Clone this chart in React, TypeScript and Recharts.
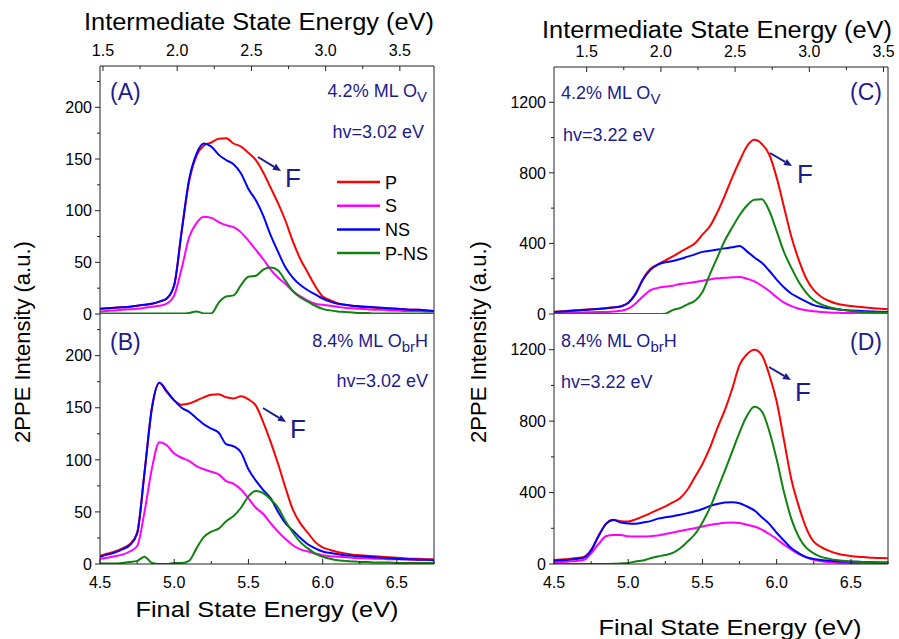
import React from "react";
import { LineChart, Line, XAxis, YAxis, ReferenceLine, Legend } from "recharts";

// final state energy (eV), shared by every panel
const energy = [
  4.5, 4.55, 4.6, 4.65, 4.7, 4.75, 4.8, 4.85, 4.9, 4.95,
  5.0, 5.05, 5.1, 5.15, 5.2, 5.25, 5.3, 5.35, 5.4, 5.45,
  5.5, 5.55, 5.6, 5.65, 5.7, 5.75, 5.8, 5.85, 5.9, 5.95,
  6.0, 6.05, 6.1, 6.15, 6.2, 6.25, 6.3, 6.35, 6.4, 6.45,
  6.5, 6.55, 6.6, 6.65, 6.7, 6.75,
];

// (A) 4.2% ML Ov, hv = 3.02 eV
const pA = [5, 5.5, 6, 6.5, 7, 8, 9, 10, 12, 15, 28, 80, 128, 153, 163, 166, 169.5, 170, 165, 162, 156, 149, 137, 122, 107, 90, 70, 53, 40, 27, 17, 13.5, 10.5, 9, 8, 7, 6.5, 6, 5.5, 5, 5, 4.5, 4, 4, 3.5, 3];
const sA = [2.5, 3, 3.5, 4, 4.5, 5, 6, 7, 8, 10, 18, 44, 74, 88, 94, 93, 89, 86, 84, 79, 71, 62, 53, 43, 35, 29, 22, 17, 13, 10, 9, 8, 7, 6, 5.5, 5, 4.5, 4, 4, 3.5, 3.5, 3, 3, 3, 2.5, 2.5];
const nsA = [5, 5.5, 6, 6.5, 7, 8, 9, 10, 12, 15, 28, 80, 130, 155, 165, 162, 154, 149, 145, 136, 121, 110, 95, 76, 60, 45, 35, 28, 23, 19, 15, 12, 10, 9, 8, 7.5, 7, 6.5, 6, 5.5, 5, 4.5, 4, 4, 3.5, 3];
const pnsA = [0.5, 0.5, 0.5, 0.5, 0.5, 0.5, 0.5, 0.5, 0.5, 0.5, 0.5, 0.5, 1, 2.5, 0.5, 0.5, 11, 17, 18, 28, 36, 37, 43, 45, 42, 32, 22, 16, 12, 8, 5, 3.5, 2.5, 2, 1.5, 1, 1, 0.5, 0.5, 0.5, 0.5, 0.5, 0.5, 0.5, 0.5, 0.5];

// (B) 8.4% ML ObrH, hv = 3.02 eV
const pB = [8, 10, 12, 15, 19, 30, 88, 150, 174, 165, 157, 153, 154, 157, 160, 162.5, 163, 160, 159, 161, 158, 152, 136, 117, 96, 73, 52, 39, 30, 21, 16, 13.5, 11.5, 10, 9, 8.5, 8, 7.5, 7, 6.5, 6, 5.5, 5, 5, 4.5, 4.5];
const sB = [5, 6, 7.5, 9, 12, 17, 50, 92, 117, 114, 106, 102, 99, 94, 91, 88.5, 86, 79.5, 77, 71.5, 63, 54, 48, 39, 31, 24, 18, 14, 12, 10, 8.5, 7.5, 7, 6.5, 6, 5.5, 5.5, 5, 5, 4.5, 4.5, 4.5, 4, 4, 4, 4];
const nsB = [7, 9, 11, 14, 18, 29, 88, 150, 174, 166, 157, 150, 146, 140, 134, 130, 126, 115, 113, 107, 91, 80, 71, 63, 50, 39, 32, 25, 19, 15, 12, 10.5, 9.5, 8.5, 8, 7.5, 7, 6.5, 6, 5.5, 5, 4.5, 4.5, 4, 4, 3.5];
const pnsB = [0.5, 0.5, 0.5, 1, 2, 3, 7, 1, 0, 0, 1, 1, 3, 15, 26, 31, 34, 41, 46, 54, 65, 70, 68, 62, 54, 41, 30, 21, 15, 10, 7, 5, 3.5, 3, 2.5, 2, 2, 1.5, 1.5, 1.5, 1, 1, 1, 1, 1, 1];

// (C) 4.2% ML Ov, hv = 3.22 eV
const pC = [13, 15, 18, 21, 24, 27, 30, 33, 38, 44, 64, 116, 200, 257, 281, 304, 326, 351, 375, 401, 450, 497, 576, 670, 773, 867, 951, 987, 964, 904, 773, 604, 435, 304, 200, 135, 98, 75, 60, 51, 45, 41, 37, 33, 30, 27];
const sC = [5, 6, 7, 8, 9, 10, 11, 12, 14, 18, 30, 60, 100, 135, 148, 155, 160, 170, 175, 181, 189, 196, 202, 205, 208, 210, 200, 185, 160, 130, 95, 65, 45, 30, 21, 15, 11, 8, 7, 6, 5, 5, 4.5, 4, 4, 4];
const nsC = [12, 14, 17, 20, 23, 26, 29, 32, 37, 43, 62, 114, 195, 250, 280, 293, 300, 312, 325, 338, 352, 358, 365, 372, 378, 386, 355, 320, 290, 245, 195, 150, 115, 92, 70, 50, 40, 32, 27, 23, 20, 18, 16, 14, 13, 12];
const pnsC = [2, 2, 2, 1.5, 1.5, 1, 1, 1, 0.5, 0.5, 0, 0, 0, 0, 0, 2, 22, 34, 55, 75, 125, 225, 320, 415, 490, 560, 615, 648, 650, 585, 470, 350, 260, 180, 120, 78, 55, 40, 30, 22, 17, 13, 11, 9, 8, 7];

// (D) 8.4% ML ObrH, hv = 3.22 eV
const pD = [22, 25, 28, 33, 40, 80, 158, 225, 248, 240, 238, 250, 267, 285, 304, 323, 345, 370, 417, 488, 560, 650, 760, 860, 980, 1115, 1175, 1200, 1170, 1060, 910, 690, 470, 320, 200, 125, 95, 75, 60, 50, 45, 41, 38, 35, 33, 32];
const sD = [9, 11, 14, 17, 22, 60, 112, 155, 162, 162, 155, 154, 154, 156, 160, 168, 176, 185, 193, 200, 210, 218, 225, 231, 232, 229, 220, 210, 192, 168, 140, 108, 80, 55, 37, 23, 15, 11, 8, 7, 6, 5, 5, 4.5, 4, 4];
const nsD = [18, 21, 24, 28, 35, 75, 155, 225, 247, 232, 227, 226, 233, 240, 254, 262, 268, 276, 285, 295, 308, 325, 336, 344, 346, 340, 322, 300, 262, 225, 175, 130, 88, 60, 38, 28, 22, 19, 16, 14, 13, 12, 11, 10, 9, 9];
const pnsD = [0, 0, 0, 0, 0, 0, 0, 0.5, 1, 3, 6, 14, 20, 32, 42, 50, 62, 88, 126, 168, 233, 314, 416, 520, 628, 737, 830, 880, 855, 745, 586, 400, 250, 150, 90, 60, 40, 30, 22, 18, 15, 12, 10, 9, 8, 8];

// axis ticks
const finalTicks = [4.5, 4.75, 5.0, 5.25, 5.5, 5.75, 6.0, 6.25, 6.5, 6.75];
const intermediateTicks = [1.5, 1.75, 2.0, 2.25, 2.5, 2.75, 3.0, 3.25, 3.5];
const lowTicks = [0, 25, 50, 75, 100, 125, 150, 175, 200, 225];
const highTicks = [0, 200, 400, 600, 800, 1000, 1200];

const seriesNames = ["P", "S", "NS", "P-NS"];
const COLORS = { p: "#ff0000", s: "#ff00ff", ns: "#0000ff", pns: "#0f820f" };
const NAVY = "#1c1c8c";
const AXIS = "#222";

const buildRows = (p: number[], s: number[], ns: number[], pns: number[]) =>
  energy.map((e, i) => ({ e, p: p[i], s: s[i], ns: ns[i], pns: pns[i] }));

const isMultiple = (v: number, step: number) =>
  Math.abs(v / step - Math.round(v / step)) < 1e-6;

// x ticks point into the plot; labels only on the 0.5 eV ticks
const bottomTick = (labels: boolean) => (props: any) => {
  const { x, y, payload } = props;
  const major = isMultiple(payload.value, 0.5);
  return (
    <g>
      <line x1={x} x2={x} y1={y} y2={y - (major ? 5 : 3)} stroke={AXIS} />
      {labels && major && (
        <text x={x} y={y + 24} textAnchor="middle" fontSize={16} fill="#000">
          {payload.value.toFixed(1)}
        </text>
      )}
    </g>
  );
};

const topTick = (hv: number) => (props: any) => {
  const { x, y, payload } = props;
  const val = payload.value - hv;
  const major = isMultiple(val, 0.5);
  return (
    <g>
      <line x1={x} x2={x} y1={y} y2={y + (major ? 5 : 3)} stroke={AXIS} />
      {major && (
        <text x={x} y={y - 10} textAnchor="middle" fontSize={16} fill="#000">
          {val.toFixed(1)}
        </text>
      )}
    </g>
  );
};

const yTick = (majorStep: number) => (props: any) => {
  const { x, y, payload } = props;
  const major = isMultiple(payload.value, majorStep);
  return (
    <g>
      <line x1={x} x2={x - (major ? 5 : 3)} y1={y} y2={y} stroke={AXIS} />
      {major && (
        <text x={x - 8} y={y + 5.7} textAnchor="end" fontSize={16} fill="#000">
          {payload.value}
        </text>
      )}
    </g>
  );
};

const renderLegend = (props: any) => {
  const items = [...(props.payload || [])].sort(
    (a: any, b: any) => seriesNames.indexOf(a.value) - seriesNames.indexOf(b.value)
  );
  return (
    <svg width={100} height={100} style={{ display: "block" }}>
      {items.map((entry: any, i: number) => (
        <g key={entry.value}>
          <line x1={0} x2={43} y1={12 + i * 23.7} y2={12 + i * 23.7} stroke={entry.color} strokeWidth={2.5} />
          <text x={48} y={12 + i * 23.7 + 6.5} fontSize={18} fill="#000">
            {entry.value}
          </text>
        </g>
      ))}
    </svg>
  );
};

interface PanelProps {
  left: number;
  top: number;
  height: number;
  margin: { top: number; right: number; bottom: number; left: number };
  rows: ReturnType<typeof buildRows>;
  yMax: number;
  yTicks: number[];
  yMajor: number;
  hvTop?: number;
  topHeight?: number;
  bottomHeight: number;
  bottomLabels: boolean;
  legend?: boolean;
}

function Panel(props: PanelProps) {
  const { left, top, height, margin, rows, yMax, yTicks, yMajor, hvTop, topHeight, bottomHeight, bottomLabels, legend } = props;
  return (
    <div style={{ position: "absolute", left, top }}>
      <LineChart width={440} height={height} data={rows} margin={margin}>
        {hvTop !== undefined && (
          <XAxis
            xAxisId="top"
            orientation="top"
            type="number"
            dataKey="e"
            domain={[4.5, 6.75]}
            allowDataOverflow
            ticks={intermediateTicks.map((t) => +(t + hvTop).toFixed(3))}
            interval={0}
            height={topHeight}
            tickSize={0}
            tickMargin={0}
            tickLine={false}
            tick={topTick(hvTop)}
            axisLine={{ stroke: AXIS }}
          />
        )}
        <XAxis
          type="number"
          dataKey="e"
          domain={[4.5, 6.75]}
          allowDataOverflow
          ticks={finalTicks}
          interval={0}
          height={bottomHeight}
          tickSize={0}
          tickMargin={0}
          tickLine={false}
          tick={bottomTick(bottomLabels)}
          axisLine={{ stroke: AXIS }}
        />
        <YAxis
          type="number"
          domain={[0, yMax]}
          allowDataOverflow
          ticks={yTicks}
          interval={0}
          width={100}
          tickSize={0}
          tickMargin={0}
          tickLine={false}
          tick={yTick(yMajor)}
          axisLine={{ stroke: AXIS }}
        />
        <ReferenceLine x={6.75} stroke={AXIS} />
        {legend && (
          <Legend
            layout="vertical"
            align="center"
            verticalAlign="middle"
            wrapperStyle={{ left: 337, top: 170, right: "auto", bottom: "auto", width: 100, height: 100 }}
            content={renderLegend}
          />
        )}
        <Line type="monotone" dataKey="p" name="P" stroke={COLORS.p} strokeWidth={2} dot={false} isAnimationActive={false} />
        <Line type="monotone" dataKey="s" name="S" stroke={COLORS.s} strokeWidth={2} dot={false} isAnimationActive={false} />
        <Line type="monotone" dataKey="ns" name="NS" stroke={COLORS.ns} strokeWidth={2} dot={false} isAnimationActive={false} />
        <Line type="monotone" dataKey="pns" name="P-NS" stroke={COLORS.pns} strokeWidth={2} dot={false} isAnimationActive={false} />
      </LineChart>
    </div>
  );
}

function Arrow({ x1, y1, x2, y2 }: { x1: number; y1: number; x2: number; y2: number }) {
  const a = Math.atan2(y2 - y1, x2 - x1);
  const len = 8;
  const w = 3.5;
  const bx = x2 - len * Math.cos(a);
  const by = y2 - len * Math.sin(a);
  const px = -Math.sin(a) * w;
  const py = Math.cos(a) * w;
  return (
    <g>
      <line x1={x1} y1={y1} x2={bx} y2={by} stroke={NAVY} strokeWidth={2} />
      <polygon points={`${x2},${y2} ${bx + px},${by + py} ${bx - px},${by - py}`} fill={NAVY} />
    </g>
  );
}

export default function App() {
  const rowsA = buildRows(pA, sA, nsA, pnsA);
  const rowsB = buildRows(pB, sB, nsB, pnsB);
  const rowsC = buildRows(pC, sC, nsC, pnsC);
  const rowsD = buildRows(pD, sD, nsD, pnsD);

  return (
    <div
      style={{
        position: "absolute",
        left: 0,
        top: 0,
        width: 899,
        height: 639,
        background: "#fff",
        overflow: "hidden",
        fontFamily: '"Liberation Sans", Arial, sans-serif',
      }}
    >
      <Panel left={0} top={0} height={330} margin={{ top: 0, right: 6, bottom: 16, left: 0 }} rows={rowsA}
        yMax={240} yTicks={lowTicks} yMajor={50} hvTop={3.02} topHeight={66} bottomHeight={0} bottomLabels={false} legend />
      <Panel left={0} top={310} height={329} margin={{ top: 4, right: 6, bottom: 0, left: 0 }} rows={rowsB}
        yMax={240} yTicks={lowTicks} yMajor={50} bottomHeight={75} bottomLabels />
      <Panel left={454} top={0} height={330} margin={{ top: 0, right: 6, bottom: 16, left: 0 }} rows={rowsC}
        yMax={1400} yTicks={highTicks} yMajor={400} hvTop={3.22} topHeight={67} bottomHeight={0} bottomLabels={false} />
      <Panel left={454} top={310} height={329} margin={{ top: 4, right: 6, bottom: 0, left: 0 }} rows={rowsD}
        yMax={1400} yTicks={highTicks} yMajor={400} bottomHeight={75} bottomLabels />

      <svg width={899} height={639} style={{ position: "absolute", left: 0, top: 0, pointerEvents: "none" }}>
        {/* axis titles */}
        <text x={259} y={30} textAnchor="middle" fontSize={23} textLength={350} lengthAdjust="spacingAndGlyphs" fill="#000">Intermediate State Energy (eV)</text>
        <text x={717} y={38} textAnchor="middle" fontSize={23} textLength={350} lengthAdjust="spacingAndGlyphs" fill="#000">Intermediate State Energy (eV)</text>
        <text x={267} y={617} textAnchor="middle" fontSize={22} textLength={263} lengthAdjust="spacingAndGlyphs" fill="#000">Final State Energy (eV)</text>
        <text x={730} y={635} textAnchor="middle" fontSize={22} textLength={263} lengthAdjust="spacingAndGlyphs" fill="#000">Final State Energy (eV)</text>
        <text x={30} y={342} transform="rotate(-90 30 342)" textAnchor="middle" fontSize={22} fill="#000">2PPE Intensity (a.u.)</text>
        <text x={486} y={342} transform="rotate(-90 486 342)" textAnchor="middle" fontSize={22} fill="#000">2PPE Intensity (a.u.)</text>

        {/* panel A */}
        <text x={110} y={100} fontSize={23} fill={NAVY}>(A)</text>
        <text x={427} y={97} textAnchor="end" fontSize={18} fill={NAVY}>
          4.2% ML O<tspan fontSize={15} dy={5}>V</tspan>
        </text>
        <text x={424} y={138} textAnchor="end" fontSize={18} fill={NAVY}>hv=3.02 eV</text>
        <Arrow x1={258} y1={157} x2={281} y2={171} />
        <text x={285} y={187} fontSize={26} fill={NAVY}>F</text>

        {/* panel B */}
        <text x={110} y={350} fontSize={23} fill={NAVY}>(B)</text>
        <text x={428} y={347} textAnchor="end" fontSize={18} fill={NAVY}>
          8.4% ML O<tspan fontSize={15} dy={5}>br</tspan><tspan dy={-5}>H</tspan>
        </text>
        <text x={428} y={387} textAnchor="end" fontSize={18} fill={NAVY}>hv=3.02 eV</text>
        <Arrow x1={263} y1={408} x2={286} y2={422} />
        <text x={290} y={438} fontSize={26} fill={NAVY}>F</text>

        {/* panel C */}
        <text x={882} y={100} textAnchor="end" fontSize={23} fill={NAVY}>(C)</text>
        <text x={561} y={99} fontSize={18} fill={NAVY}>
          4.2% ML O<tspan fontSize={15} dy={5}>V</tspan>
        </text>
        <text x={563} y={141} fontSize={18} fill={NAVY}>hv=3.22 eV</text>
        <Arrow x1={770} y1={153} x2={792} y2={166} />
        <text x={797} y={183} fontSize={26} fill={NAVY}>F</text>

        {/* panel D */}
        <text x={882} y={350} textAnchor="end" fontSize={23} fill={NAVY}>(D)</text>
        <text x={561} y={347} fontSize={18} fill={NAVY}>
          8.4% ML O<tspan fontSize={15} dy={5}>br</tspan><tspan dy={-5}>H</tspan>
        </text>
        <text x={561} y={388} fontSize={18} fill={NAVY}>hv=3.22 eV</text>
        <Arrow x1={769} y1={367} x2={791} y2={380} />
        <text x={795} y={401} fontSize={26} fill={NAVY}>F</text>
      </svg>
    </div>
  );
}
